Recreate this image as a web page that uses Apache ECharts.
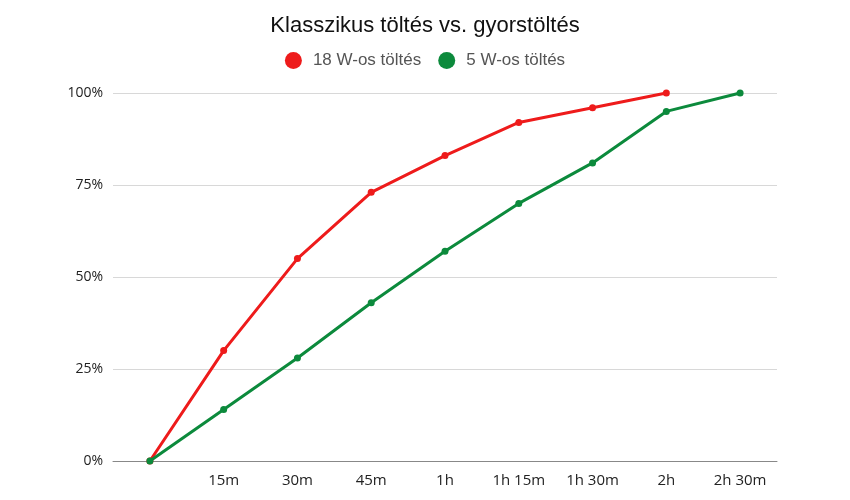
<!DOCTYPE html>
<html>
<head>
<meta charset="utf-8">
<title>Klasszikus töltés vs. gyorstöltés</title>
<script type="text/javascript" src="https://cdn.jsdelivr.net/npm/echarts@6/dist/echarts.min.js"></script>
<style>
html, body { margin: 0; padding: 0; background: #fff; }
#chart { width: 850px; height: 500px; }
</style>
</head>
<body>
<div id="chart"></div>
<script type="text/javascript">
    // idopontok (elso pont cimke nelkul)
    var categories = ['', '15m', '30m', '45m', '1h', '1h 15m', '1h 30m', '2h', '2h 30m'];
    // toltottseg %-ban
    var fast18W = [0, 30, 55, 73, 83, 92, 96, 100, null];
    var slow5W = [0, 14, 28, 43, 57, 70, 81, 95, 100];
    var yTicks = [0, 25, 50, 75, 100];

    var option = {
        backgroundColor: '#fff',
        title: {
            text: 'Klasszikus töltés vs. gyorstöltés',
            left: 'center',
            top: 10,
            textStyle: {
                fontFamily: 'Liberation Sans',
                fontSize: 22,
                fontWeight: 'normal',
                color: '#111'
            }
        },
        legend: {
            top: 47,
            left: 'center',
            icon: 'circle',
            itemWidth: 17,
            itemHeight: 17,
            itemGap: 17,
            textStyle: {
                fontFamily: 'Liberation Sans',
                fontSize: 17,
                color: '#555',
                padding: [0, 0, 0, 6]
            },
            data: ['18 W-os töltés', '5 W-os töltés']
        },
        grid: {
            left: 113,
            right: 73,
            top: 93,
            bottom: 39
        },
        xAxis: {
            type: 'category',
            data: categories,
            boundaryGap: true,
            axisLine: { lineStyle: { color: '#888', width: 1 } },
            axisTick: { show: false },
            axisLabel: {
                interval: 0,
                margin: 12,
                fontFamily: 'Open Sans',
                fontSize: 15,
                color: '#222'
            }
        },
        yAxis: {
            type: 'value',
            min: yTicks[0],
            max: yTicks[yTicks.length - 1],
            interval: 25,
            axisLine: { show: false },
            axisTick: { show: false },
            splitLine: { lineStyle: { color: '#d8d8d8' } },
            axisLabel: {
                formatter: '{value}%',
                margin: 10,
                fontFamily: 'Open Sans',
                fontSize: 14,
                color: '#222'
            }
        },
        series: [
            {
                name: '18 W-os töltés',
                type: 'line',
                data: fast18W,
                symbol: 'circle',
                symbolSize: 7,
                color: '#ee1b1b',
                lineStyle: { width: 3 },
                z: 3
            },
            {
                name: '5 W-os töltés',
                type: 'line',
                data: slow5W,
                symbol: 'circle',
                symbolSize: 7,
                color: '#0c8a3c',
                lineStyle: { width: 3 },
                z: 4
            }
        ]
    };

    var chart = echarts.init(document.getElementById('chart'));
    chart.setOption(option);
</script>
</body>
</html>
